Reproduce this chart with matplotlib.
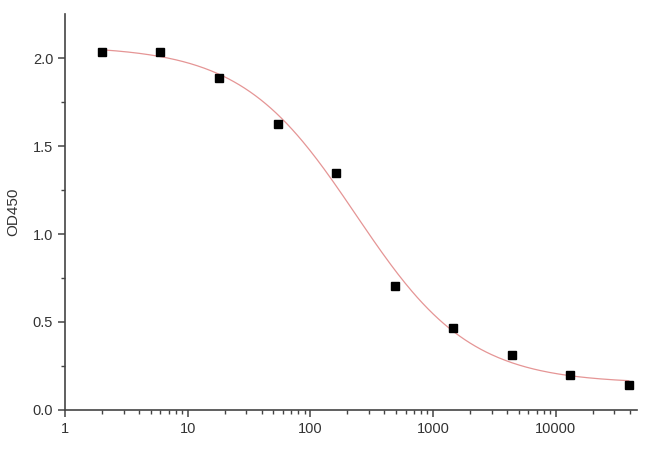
import numpy as np
import matplotlib
matplotlib.use('Agg')
import matplotlib.pyplot as plt
from matplotlib.ticker import FixedLocator, LogLocator, NullFormatter, FuncFormatter

# concentrations (3-fold dilution) and measured OD450
conc = [2, 6, 18, 54, 162, 486, 1458, 4374, 13122, 39366]
od450 = [2.035, 2.035, 1.888, 1.625, 1.348, 0.705, 0.466, 0.311, 0.201, 0.142]

# 4-parameter logistic fit
fit_top = 2.07
fit_bottom = 0.15
fit_ec50 = 235.0
fit_hill = 0.93

xticks = [1, 10, 100, 1000, 10000]
yticks = [0.0, 0.5, 1.0, 1.5, 2.0]

plt.rcParams['font.family'] = ['Liberation Sans', 'DejaVu Sans']

fig = plt.figure(figsize=(6.5, 4.57), dpi=100)
ax = fig.add_axes([0.1, 0.103, 0.88, 0.866])

xs = np.logspace(np.log10(conc[0]), np.log10(conc[-1]), 300)
ys = fit_bottom + (fit_top - fit_bottom) / (1.0 + (xs / fit_ec50) ** fit_hill)
ax.plot(xs, ys, color='#e59595', lw=0.9)
ax.plot(conc, od450, 's', color='black', ms=6, ls='none')

ax.set_xscale('log')
ax.set_xlim(1, 46000)
ax.set_ylim(0, 2.25)

ax.xaxis.set_major_locator(FixedLocator(xticks))
ax.xaxis.set_major_formatter(FuncFormatter(lambda v, p: '%d' % v))
ax.xaxis.set_minor_locator(LogLocator(base=10, subs=np.arange(2, 10), numticks=20))
ax.xaxis.set_minor_formatter(NullFormatter())
ax.yaxis.set_major_locator(FixedLocator(yticks))
ax.yaxis.set_major_formatter(FuncFormatter(lambda v, p: '%.1f' % v))
ax.yaxis.set_minor_locator(FixedLocator([0.25, 0.75, 1.25, 1.75]))

for side in ['top', 'right']:
    ax.spines[side].set_visible(False)
for side in ['left', 'bottom']:
    ax.spines[side].set_color('#444444')
    ax.spines[side].set_linewidth(1.2)

ax.tick_params(which='major', direction='out', length=5, width=1.1,
               color='#444444', labelsize=10.5, labelcolor='#333333')
ax.tick_params(which='minor', direction='out', length=3, width=1.0,
               color='#444444')

ax.set_ylabel('OD450', fontsize=11, color='#333333', labelpad=9)

fig.savefig('out.png', dpi=100)
